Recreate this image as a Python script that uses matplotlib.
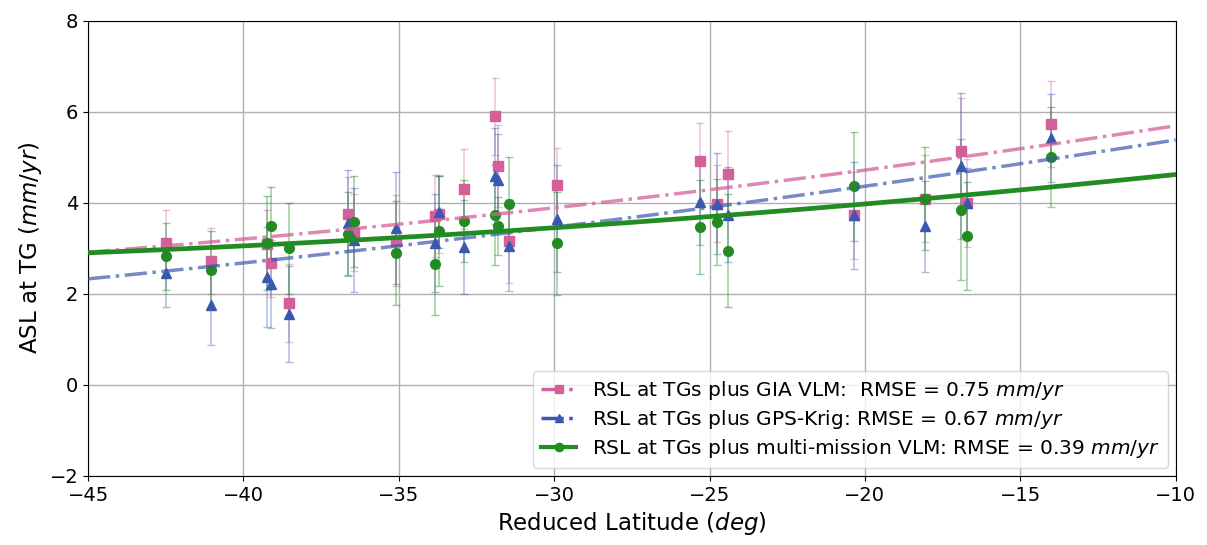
import numpy as np
import matplotlib
matplotlib.use("Agg")
import matplotlib.pyplot as plt
from matplotlib.lines import Line2D

# reduced latitude of each tide gauge
lat = [-42.5, -41.05, -39.25, -39.1, -38.55, -36.65, -36.45, -35.1, -33.85, -33.7,
       -32.9, -31.9, -31.8, -31.45, -29.9, -25.3, -24.75, -24.4, -20.35, -18.05,
       -16.9, -16.7, -14.0]

# RSL + GIA VLM
gia = [3.12, 2.72, 3.10, 2.68, 1.80, 3.76, 3.34, 3.16, 3.70, 3.75,
       4.30, 5.90, 4.81, 3.16, 4.40, 4.91, 3.98, 4.63, 3.72, 4.09,
       5.13, 3.99, 5.73]
gia_err = [0.72, 0.73, 0.75, 0.76, 0.85, 0.80, 0.85, 1.00, 0.90, 0.85,
           0.87, 0.85, 0.90, 0.92, 0.81, 0.84, 0.85, 0.95, 0.95, 0.95,
           1.17, 0.97, 0.95]

# RSL + GPS kriging
gps = [2.45, 1.76, 2.37, 2.22, 1.56, 3.55, 3.18, 3.45, 3.12, 3.80,
       3.03, 4.59, 4.50, 3.05, 3.65, 4.02, 3.98, 3.74, 3.72, 3.48,
       4.81, 3.99, 5.43]
gps_err = [0.75, 0.89, 1.10, 0.97, 1.05, 1.16, 1.14, 1.23, 1.08, 0.79,
           1.03, 1.06, 1.00, 0.98, 1.17, 0.94, 1.11, 1.05, 1.17, 1.00,
           1.60, 0.78, 0.97]

# RSL + multi-mission VLM
mm = [2.82, 2.53, 3.12, 3.49, 3.00, 3.32, 3.58, 2.89, 2.66, 3.38,
      3.60, 3.74, 3.49, 3.98, 3.11, 3.47, 3.58, 2.95, 4.36, 4.09,
      3.85, 3.27, 5.01]
mm_err = [0.74, 0.85, 1.03, 0.86, 1.00, 0.91, 1.00, 1.14, 1.13, 1.20,
          0.90, 1.10, 0.63, 1.02, 1.13, 1.03, 0.95, 1.25, 1.20, 1.13,
          1.54, 1.18, 1.10]

# quadratic fits, y = a + b*(lat+27) + c*(lat+27)^2
fit_gia = [4.122, 0.0801, 0.000716]
fit_gps = [3.720, 0.0878, 0.000578]
fit_mm = [3.594, 0.0498, 0.000621]

labels = ["RSL at TGs plus GIA VLM:  RMSE = 0.75 $mm/yr$",
          "RSL at TGs plus GPS-Krig: RMSE = 0.67 $mm/yr$",
          "RSL at TGs plus multi-mission VLM: RMSE = 0.39 $mm/yr$"]

pink = "#d4609a"
blue = "#3a58b0"
green = "#228b22"

fig = plt.figure(figsize=(12.07, 5.45), dpi=100)
ax = fig.add_axes([0.073, 0.127, 0.901, 0.835])

ax.errorbar(lat, gia, yerr=gia_err, fmt="none", ecolor=pink, elinewidth=1.1,
            capsize=3, alpha=0.4, zorder=2)
ax.errorbar(lat, gps, yerr=gps_err, fmt="none", ecolor=blue, elinewidth=1.1,
            capsize=3, alpha=0.4, zorder=2)
ax.errorbar(lat, mm, yerr=mm_err, fmt="none", ecolor=green, elinewidth=1.1,
            capsize=3, alpha=0.45, zorder=2)

ax.plot(lat, gia, "s", color=pink, ms=7.5, zorder=3)
ax.plot(lat, gps, "^", color=blue, ms=7.5, zorder=3)
ax.plot(lat, mm, "o", color=green, ms=7, zorder=3)

xx = np.linspace(-45, -10, 200)
for coef, col, ls, lw, a in [(fit_gia, pink, "-.", 2.5, 0.75),
                             (fit_gps, blue, "-.", 2.5, 0.7),
                             (fit_mm, green, "-", 3.4, 1.0)]:
    u = xx + 27
    ax.plot(xx, coef[0] + coef[1] * u + coef[2] * u ** 2, ls, color=col,
            lw=lw, alpha=a, zorder=4)

ax.set_xlim(-45, -10)
ax.set_ylim(-2, 8)
ax.set_xticks(np.arange(-45, -9, 5))
ax.set_yticks(np.arange(-2, 9, 2))
ax.grid(True, color="#b0b0b0", lw=1)
ax.set_axisbelow(True)
ax.tick_params(labelsize=14)
ax.set_xlabel("Reduced Latitude ($deg$)", fontsize=16.5)
ax.set_ylabel("ASL at TG ($mm/yr$)", fontsize=16.5)

handles = [Line2D([], [], color=pink, ls="-.", lw=2.5, marker="s", ms=6),
           Line2D([], [], color=blue, ls="-.", lw=2.5, marker="^", ms=6),
           Line2D([], [], color=green, ls="-", lw=3, marker="o", ms=6)]
ax.legend(handles, labels, loc="lower right", fontsize=14.5, framealpha=0.8,
          handlelength=1.7, borderaxespad=0.4, labelspacing=0.3)

fig.savefig("out.png", dpi=100)
